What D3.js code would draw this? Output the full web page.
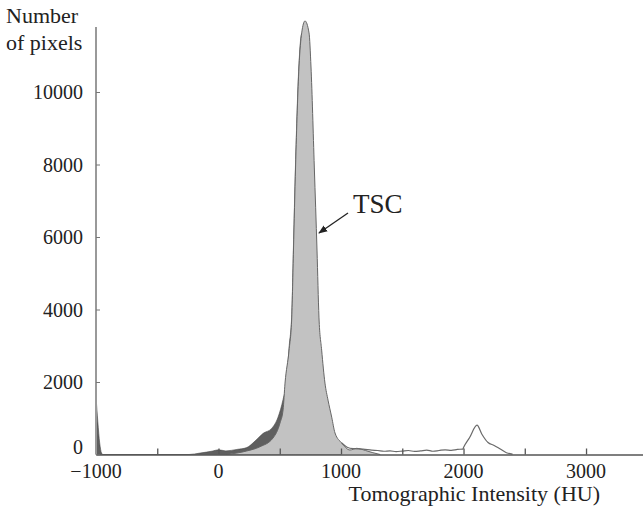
<!DOCTYPE html>
<html><head><meta charset="utf-8">
<script src="https://cdn.jsdelivr.net/npm/d3@7"></script>
<style>
html,body{margin:0;padding:0;background:#fff;}
svg{display:block;font-family:"Liberation Serif","DejaVu Serif",serif;}
</style></head>
<body><svg id="c" width="643" height="511"></svg>
<script>
// ---- data (HU, pixel counts) ----
const tscHU    = [60, 150, 230, 339, 445, 502, 527, 543, 576, 598, 612, 629, 657, 679, 706, 739, 755, 782, 804, 820, 842, 869, 894, 924, 951, 1006, 1073, 1128, 1200, 1260, 1320];
const tscCount = [0, 40, 97, 215, 455, 870, 1230, 1970, 2880, 3790, 5640, 7930, 10690, 11630, 11960, 11630, 10690, 7930, 5640, 3790, 2880, 1970, 1500, 1030, 593, 317, 124, 170, 110, 50, 0];

const darkHU    = [-1000, -985, -970, -955, -945, -240, -150, -45, 0, 60, 150, 230, 298, 363, 434, 486, 527, 557, 576, 598, 612, 629, 657, 679, 700, 730, 770, 820, 870, 930, 1000];
const darkCount = [1600, 900, 320, 40, 0, 0, 40, 97, 130, 100, 140, 190, 370, 580, 720, 1030, 1520, 2050, 2950, 3880, 5760, 8050, 10780, 11600, 11300, 9500, 6500, 2800, 1000, 250, 0];

const lineHU    = [1006, 1050, 1100, 1180, 1250, 1300, 1350, 1400, 1450, 1500, 1550, 1600, 1650, 1700, 1750, 1800, 1850, 1900, 1950, 1995, 2000, 2050, 2110, 2150, 2200, 2250, 2300, 2350, 2400];
const lineCount = [317, 200, 160, 150, 120, 110, 90, 100, 80, 95, 110, 85, 100, 120, 90, 110, 130, 115, 140, 150, 190, 470, 810, 560, 330, 250, 150, 50, 10];

const xMajor = [-1000, 0, 1000, 2000, 3000];
const xMajorLabels = ["\u22121000", "0", "1000", "2000", "3000"];
const xMinorTicks = [-500, 0, 500, 1000, 1500, 2000, 2500, 3000];
const yTicks = [0, 2000, 4000, 6000, 8000, 10000];
const yTickLabels = ["0", "2000", "4000", "6000", "8000", "10000"];

// ---- scales ----
const svg = d3.select("#c");
const x = d3.scaleLinear().domain([-1000, 3465]).range([96, 643]);
const y = d3.scaleLinear().domain([0, 12000]).range([454.5, 19.5]);

const area = (hu, cnt) => d3.area()
  .x((d, i) => x(hu[i])).y0(y(0)).y1((d, i) => y(cnt[i]))
  .curve(d3.curveMonotoneX)(hu);
const line = (hu, cnt) => d3.line()
  .x((d, i) => x(hu[i])).y((d, i) => y(cnt[i]))
  .curve(d3.curveMonotoneX)(hu);

// dark series
svg.append("path").attr("d", area(darkHU, darkCount))
  .attr("fill", "#5f5f5f").attr("stroke", "#444").attr("stroke-width", 0.6);
// TSC light series
svg.append("path").attr("d", area(tscHU, tscCount))
  .attr("fill", "#c2c2c2");
svg.append("path").attr("d", line(tscHU, tscCount))
  .attr("fill", "none").attr("stroke", "#666").attr("stroke-width", 1);
// thin line series
svg.append("path").attr("d", line(lineHU, lineCount))
  .attr("fill", "none").attr("stroke", "#6a6a6a").attr("stroke-width", 1.2);

// ---- axes ----
const xAxis = svg.append("g").attr("transform", `translate(0,${y(0)})`)
  .call(d3.axisBottom(x).tickValues(xMinorTicks).tickSize(-6).tickSizeOuter(0).tickFormat(""));
xAxis.select(".domain").attr("stroke", "#555").attr("stroke-width", 1.5);
xAxis.selectAll(".tick line").attr("stroke", "#555").attr("stroke-width", 1.3);

svg.append("g").selectAll("text").data(xMajor).join("text")
  .attr("x", d => x(d)).attr("y", 478)
  .attr("text-anchor", "middle").attr("font-size", 20).attr("fill", "#222")
  .text((d, i) => xMajorLabels[i]);

const yAxis = svg.append("g").attr("transform", `translate(96,0)`)
  .call(d3.axisLeft(y).tickValues(yTicks).tickSize(-4).tickSizeOuter(0).tickFormat(""));
yAxis.select(".domain").attr("d", `M0,${y(0)}V27`).attr("stroke", "#999").attr("stroke-width", 2);
yAxis.selectAll(".tick line").attr("stroke", "#777").attr("stroke-width", 1);

svg.append("g").selectAll("text").data(yTicks).join("text")
  .attr("x", 83).attr("y", d => y(d) + (d === 0 ? -1 : 7))
  .attr("text-anchor", "end").attr("font-size", 20).attr("fill", "#222")
  .text((d, i) => yTickLabels[i]);

// axis titles
svg.append("text").attr("x", 6).attr("y", 23).attr("font-size", 22).attr("fill", "#222").text("Number");
svg.append("text").attr("x", 6).attr("y", 50).attr("font-size", 22).attr("fill", "#222").text("of pixels");
svg.append("text").attr("x", 600).attr("y", 501).attr("text-anchor", "end")
  .attr("font-size", 22).attr("fill", "#222").text("Tomographic Intensity (HU)");

// annotation
svg.append("defs").append("marker").attr("id", "ah").attr("viewBox", "0 0 10 10")
  .attr("refX", 9).attr("refY", 5).attr("markerWidth", 9).attr("markerHeight", 9)
  .attr("orient", "auto").attr("markerUnits", "userSpaceOnUse")
  .append("path").attr("d", "M0,1L10,5L0,9Z").attr("fill", "#222");
svg.append("line").attr("x1", 348).attr("y1", 213).attr("x2", 319).attr("y2", 233)
  .attr("stroke", "#222").attr("stroke-width", 1.3).attr("marker-end", "url(#ah)");
svg.append("text").attr("x", 353).attr("y", 213).attr("font-size", 27).attr("fill", "#222").text("TSC");
</script></body></html>
